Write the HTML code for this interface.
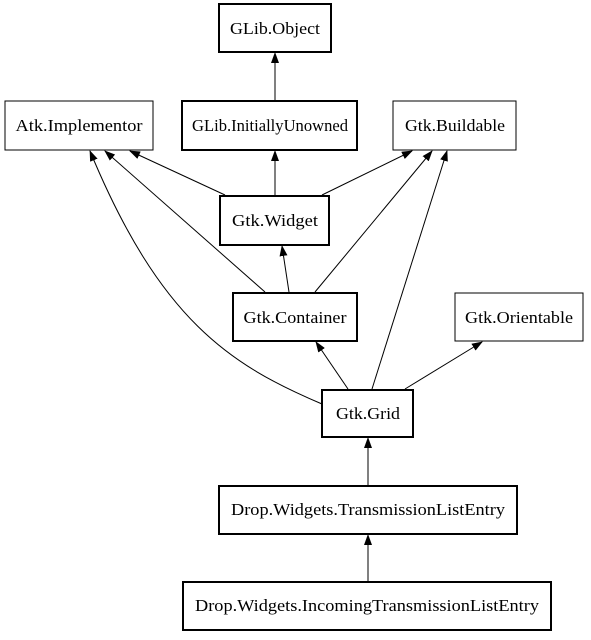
<!DOCTYPE html>
<html><head><style>body{margin:0;background:#fff}</style></head><body>
<svg width="591" height="635" viewBox="0 0 591 635" xmlns="http://www.w3.org/2000/svg" font-family="Liberation Serif, serif" font-size="17">
<defs><marker id="a" markerWidth="11" markerHeight="8" refX="10" refY="4" orient="auto" markerUnits="userSpaceOnUse"><path d="M0,0 L11,4 L0,8 z" fill="#000"/></marker></defs>
<g stroke="#000" fill="none" stroke-width="1">
<line x1="275" y1="100" x2="275" y2="53" marker-end="url(#a)"/>
<line x1="275" y1="195" x2="275" y2="151" marker-end="url(#a)"/>
<line x1="225" y1="195" x2="130" y2="151" marker-end="url(#a)"/>
<line x1="322" y1="195" x2="412" y2="151" marker-end="url(#a)"/>
<line x1="289" y1="292" x2="282" y2="246" marker-end="url(#a)"/>
<line x1="265" y1="292" x2="105" y2="151" marker-end="url(#a)"/>
<line x1="315" y1="292" x2="432" y2="151" marker-end="url(#a)"/>
<line x1="348" y1="389" x2="316" y2="342" marker-end="url(#a)"/>
<line x1="405" y1="389" x2="482" y2="342" marker-end="url(#a)"/>
<line x1="372" y1="389" x2="447" y2="151" marker-end="url(#a)"/>
<path d="M322,404 C230,365 160,320 90,151" marker-end="url(#a)"/>
<line x1="368" y1="485" x2="368" y2="438" marker-end="url(#a)"/>
<line x1="368" y1="581" x2="368" y2="535" marker-end="url(#a)"/>
</g>
<g fill="#fff" stroke="#000">
<rect x="219" y="4" width="112" height="48" stroke-width="2"/>
<rect x="5" y="101" width="148" height="49"/>
<rect x="182" y="101" width="175" height="49" stroke-width="2"/>
<rect x="393" y="101" width="123" height="49"/>
<rect x="220" y="196" width="109" height="49" stroke-width="2"/>
<rect x="233" y="293" width="124" height="48" stroke-width="2"/>
<rect x="455" y="293" width="128" height="48"/>
<rect x="322" y="390" width="91" height="47" stroke-width="2"/>
<rect x="219" y="486" width="298" height="48" stroke-width="2"/>
<rect x="183" y="582" width="368" height="48" stroke-width="2"/>
</g>
<g text-anchor="middle" fill="#000">
<text x="275" y="34" textLength="90" lengthAdjust="spacingAndGlyphs">GLib.Object</text>
<text x="79" y="131" textLength="127" lengthAdjust="spacingAndGlyphs">Atk.Implementor</text>
<text x="270" y="131" textLength="156" lengthAdjust="spacingAndGlyphs">GLib.InitiallyUnowned</text>
<text x="455" y="131" textLength="100" lengthAdjust="spacingAndGlyphs">Gtk.Buildable</text>
<text x="275" y="226" textLength="86" lengthAdjust="spacingAndGlyphs">Gtk.Widget</text>
<text x="295" y="323" textLength="103" lengthAdjust="spacingAndGlyphs">Gtk.Container</text>
<text x="519" y="323" textLength="108" lengthAdjust="spacingAndGlyphs">Gtk.Orientable</text>
<text x="368" y="419" textLength="64" lengthAdjust="spacingAndGlyphs">Gtk.Grid</text>
<text x="368" y="515" textLength="274" lengthAdjust="spacingAndGlyphs">Drop.Widgets.TransmissionListEntry</text>
<text x="367" y="611" textLength="344" lengthAdjust="spacingAndGlyphs">Drop.Widgets.IncomingTransmissionListEntry</text>
</g>
</svg>
</body></html>
